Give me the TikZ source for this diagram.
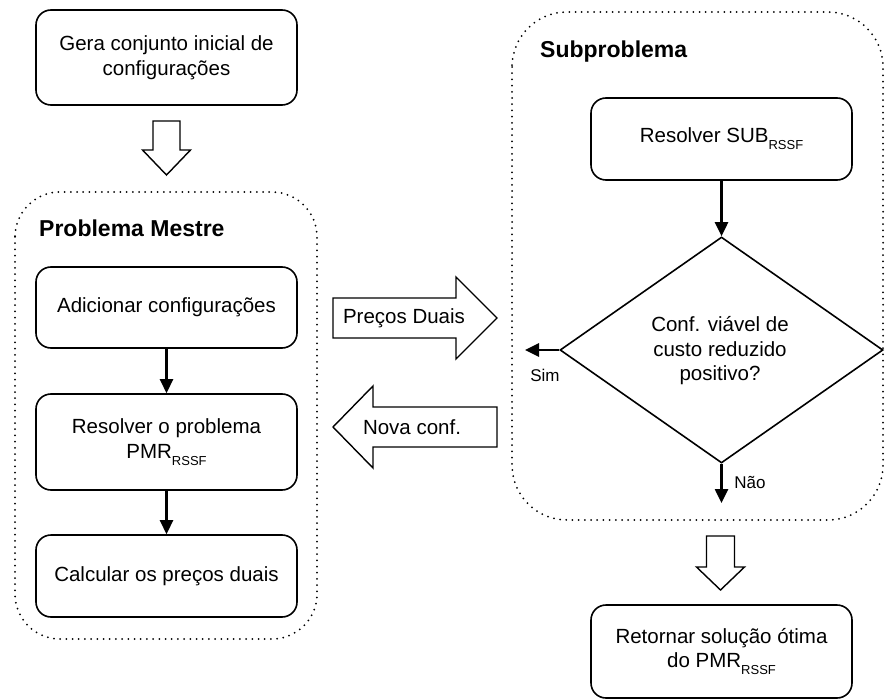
\documentclass[tikz,border=0pt]{standalone}
\usepackage{fontspec}
\setmainfont{Liberation Sans}
\usetikzlibrary{arrows.meta,shapes.geometric}
% lowered small-caps style index used in the model names
\newcommand\idxrssf{\raisebox{-0.34em}{\fontsize{13}{15}\selectfont RSSF}}
\begin{document}
\begin{tikzpicture}[x=1pt,y=-1pt,
  box/.style={draw, line width=1.6pt, rounded corners=15pt, align=center,
    inner sep=0pt, font=\fontsize{20.5}{24.5}\selectfont, minimum width=261pt},
  region/.style={line width=2pt, line cap=round, dash pattern=on 0pt off 6.2pt,
    rounded corners=#1},
  blockarrow/.style={draw, line width=1.4pt, line join=miter, fill=white},
  flow/.style={line width=2.6pt, -{Triangle[length=14pt,width=13pt]}},
  title/.style={font=\bfseries\fontsize{23}{27}\selectfont, anchor=west, inner sep=0pt},
  edgelabel/.style={font=\fontsize{17}{20}\selectfont, inner sep=0pt},
  arrowtext/.style={font=\fontsize{20.5}{24.5}\selectfont, inner sep=0pt}]
\useasboundingbox (0,0) rectangle (885,700);

% dotted regions
\draw[region=45pt] (15,192) rectangle (317,639);
\draw[region=55pt] (512,12) rectangle (883,520);
\node[title] (tmestre) at (39,228) {Problema Mestre};
\node[title] (tsub) at (540,52) {Subproblema};

% master problem column
\node[box, minimum height=95pt] (gera) at (166.5,57.5)
  {Gera conjunto inicial de\\configurações};
\node[box, minimum height=81pt] (adic) at (166.5,307.5) {Adicionar configurações};
\node[box, minimum height=96pt] (respmr) at (166.5,442)
  {Resolver o problema\\PMR\idxrssf};
\node[box, minimum height=82pt] (calc) at (166.5,576) {Calcular os preços duais};

\draw[flow] (adic.south) -- (respmr.north);
\draw[flow] (respmr.south) -- (calc.north);

% subproblem column
\node[box, minimum height=82pt] (ressub) at (721.5,139) {Resolver SUB\idxrssf};
\node[diamond, draw, line width=1.6pt, minimum width=323pt, minimum height=226pt,
  inner sep=0pt] (dec) at (721.5,350) {};
\node[arrowtext, align=center] (dectext) at (720,351)
  {Conf. viável de\\custo reduzido\\positivo?};
\node[box, minimum height=93pt] (ret) at (721.5,651.5)
  {Retornar solução ótima\\do PMR\idxrssf};

\coordinate (simend) at (525,350);
\coordinate (naoend) at (721.5,503);
\draw[flow] (ressub.south) -- (dec.north);
\draw[flow] (dec.west) -- (simend);
\draw[flow] (dec.south) -- (naoend);
\node[edgelabel] (sim) at (545,375) {Sim};
\node[edgelabel] (nao) at (750,482) {Não};

% block arrows
\draw[blockarrow] (153,121) -- (180,121) -- (180,150) -- (190.5,150) -- (166.5,175)
  -- (142.5,150) -- (153,150) -- cycle;
\draw[blockarrow] (706.5,536) -- (734.5,536) -- (734.5,567) -- (744.5,567) -- (720.5,590)
  -- (696.5,567) -- (706.5,567) -- cycle;
\draw[blockarrow] (333,298) -- (456,298) -- (456,277) -- (497,318) -- (456,359)
  -- (456,338) -- (333,338) -- cycle;
\draw[blockarrow] (497,407) -- (373,407) -- (373,386) -- (333,427) -- (373,468)
  -- (373,447) -- (497,447) -- cycle;
\node[arrowtext] (precos) at (404,318) {Preços Duais};
\node[arrowtext] (nova) at (412,427) {Nova conf.};
\end{tikzpicture}
\end{document}
